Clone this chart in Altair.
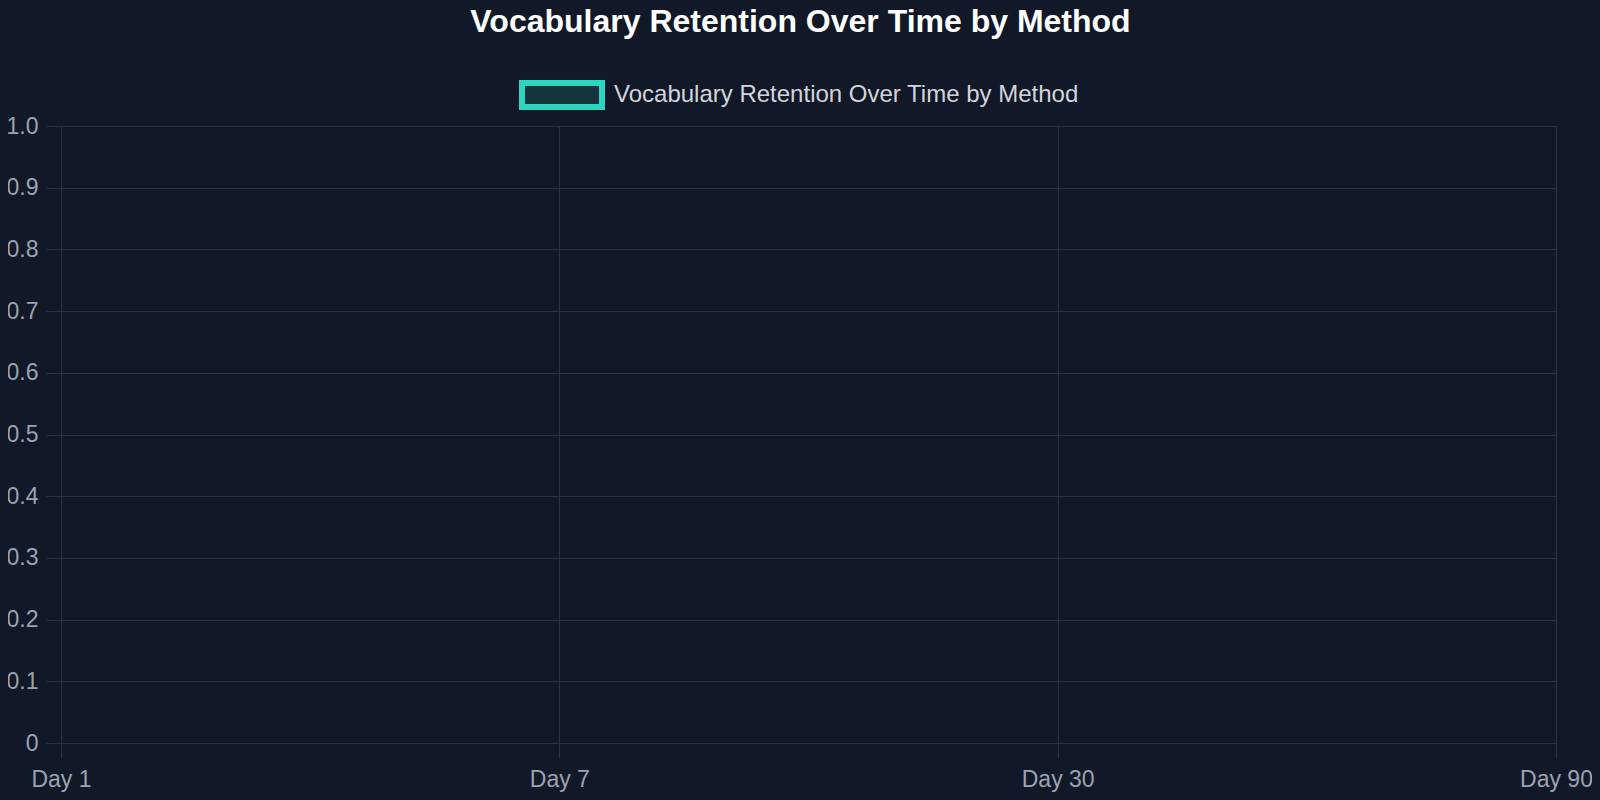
import altair as alt
import pandas as pd

# ---- data (no values are drawn in the reference: the series is empty) ----
days = ["Day 1", "Day 7", "Day 30", "Day 90"]
retention = [None, None, None, None]
series_name = "Vocabulary Retention Over Time by Method"
y_ticks = [0, 0.1, 0.2, 0.3, 0.4, 0.5, 0.6, 0.7, 0.8, 0.9, 1.0]

df = pd.DataFrame({
    "day": days,
    "retention": pd.Series(retention, dtype="object"),
    "series": [series_name] * len(days),
})

FONT = "Liberation Sans"
BG = "#111827"
GRID = "#2b3341"
TICK_LABEL = "#9ca3af"

chart = alt.Chart(df).mark_line(strokeWidth=3).encode(
    x=alt.X(
        "day:N",
        sort=days,
        scale=alt.Scale(type="point", domain=days, padding=0),
        axis=alt.Axis(
            title=None, labelAngle=0, grid=True, gridColor=GRID, gridWidth=1,
            domainColor=GRID, tickColor=GRID, tickSize=15, labelPadding=10,
            labelFontSize=23, labelColor=TICK_LABEL, labelFont=FONT,
        ),
    ),
    y=alt.Y(
        "retention:Q",
        scale=alt.Scale(domain=[0, 1], nice=False, zero=True),
        axis=alt.Axis(
            title=None, values=y_ticks, grid=True, gridColor=GRID, gridWidth=1,
            domainColor=GRID, tickColor=GRID, tickSize=15, labelPadding=8,
            labelFontSize=23, labelColor=TICK_LABEL, labelFont=FONT,
            labelExpr="datum.value == 0 ? '0' : format(datum.value, '.1f')",
        ),
    ),
    color=alt.Color(
        "series:N",
        scale=alt.Scale(domain=[series_name], range=["#2dd4bf"]),
        legend=alt.Legend(
            title=None, orient="none", legendX=458, legendY=-74,
            direction="horizontal", padding=0,
            symbolType="M-1,-0.3H1V0.3H-1Z", symbolSize=6400,
            symbolStrokeWidth=6, symbolFillColor="#15343e", symbolOpacity=1,
            labelFontSize=24, labelColor="#d1d5db", labelFont=FONT,
            labelOffset=9, labelLimit=1000,
        ),
    ),
).properties(
    width=1495,
    height=617,
    autosize=alt.AutoSizeParams(type="none"),
    padding={"left": 53, "top": 118, "right": 36, "bottom": 49},
    background=BG,
    title=alt.Title(
        series_name, fontSize=32, fontWeight="bold", color="#ffffff",
        font=FONT, anchor="middle", baseline="alphabetic", offset=0,
        dy=12, dx=-8,
    ),
).configure_view(
    stroke="transparent"
)

chart.save("out.html", embed_options={"renderer": "svg", "actions": False})

# page background matches the chart background (the reference is dark to the edges)
with open("out.html", "r", encoding="utf-8") as f:
    html = f.read()
html = html.replace(
    "<head>",
    "<head>\n<style>html, body { background: #111827; } svg { overflow: visible; }</style>",
    1,
)
with open("out.html", "w", encoding="utf-8") as f:
    f.write(html)
